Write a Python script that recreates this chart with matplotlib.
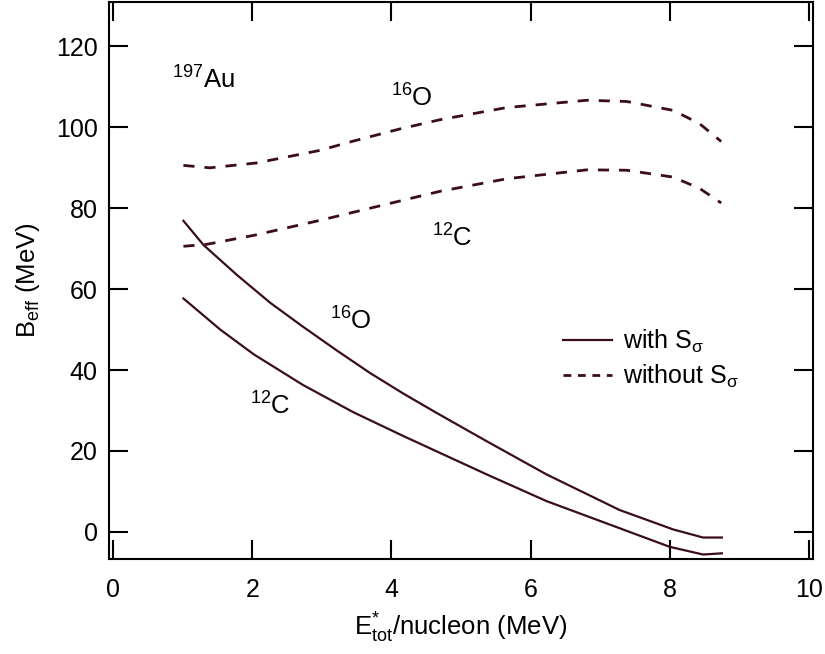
import matplotlib
matplotlib.use('Agg')
import matplotlib.pyplot as plt

plt.rcParams['font.family'] = ['Liberation Sans', 'DejaVu Sans']
plt.rcParams['mathtext.fontset'] = 'custom'
plt.rcParams['mathtext.rm'] = 'Liberation Sans'
plt.rcParams['mathtext.it'] = 'Liberation Sans:italic'
plt.rcParams['mathtext.bf'] = 'Liberation Sans:bold'

# E*_tot / nucleon (MeV) and B_eff (MeV), with S_sigma
o16_with_x = [1.01, 1.30, 1.78, 2.26, 2.73, 3.21, 3.69, 4.17, 4.65, 5.37, 6.23, 7.28, 8.05, 8.48, 8.75]
o16_with_y = [76.9, 70.9, 63.5, 56.6, 50.7, 44.9, 39.3, 34.2, 29.4, 22.4, 14.2, 5.4, 0.6, -1.4, -1.4]

c12_with_x = [1.01, 1.54, 2.02, 2.73, 3.45, 4.17, 5.37, 6.23, 7.28, 8.0, 8.48, 8.75]
c12_with_y = [57.7, 50.0, 43.9, 36.3, 29.6, 23.7, 14.2, 7.6, 0.9, -3.7, -5.6, -5.3]

# without S_sigma
o16_without_x = [1.01, 1.39, 2.06, 2.97, 3.45, 4.12, 4.70, 5.66, 6.81, 7.38, 8.05, 8.43, 8.74]
o16_without_y = [90.6, 90.0, 91.2, 94.3, 96.6, 99.6, 101.9, 104.9, 106.7, 106.4, 104.2, 100.9, 96.5]

c12_without_x = [1.01, 1.35, 2.02, 2.97, 3.93, 4.70, 5.66, 6.81, 7.38, 8.05, 8.43, 8.74]
c12_without_y = [70.6, 71.1, 73.3, 77.0, 81.0, 84.2, 87.3, 89.5, 89.4, 87.7, 84.9, 81.3]

line_color = '#3b0d1b'
dash = (4.0, 3.6)

fig = plt.figure(figsize=(8.25, 6.54), dpi=100)
ax = fig.add_axes([0.1321, 0.1453, 0.8534, 0.8517])

ax.plot(o16_with_x, o16_with_y, color=line_color, lw=1.6, label=r'with S$_{\mathrm{\sigma}}$')
ax.plot(c12_with_x, c12_with_y, color=line_color, lw=1.6)
ax.plot(o16_without_x, o16_without_y, color=line_color, lw=2.0, dashes=dash,
        label=r'without S$_{\mathrm{\sigma}}$')
ax.plot(c12_without_x, c12_without_y, color=line_color, lw=2.0, dashes=dash)

ax.set_xlim(-0.06, 10.06)
ax.set_ylim(-6.7, 131)
ax.set_xticks([0, 2, 4, 6, 8, 10])
ax.set_yticks([0, 20, 40, 60, 80, 100, 120])

for s in ax.spines.values():
    s.set_linewidth(1.5)
ax.tick_params(axis='both', direction='in', length=13.5, width=1.5, labelsize=18,
               top=True, right=True)
ax.tick_params(axis='x', pad=14)
ax.tick_params(axis='y', pad=8)

ax.set_xlabel(r'E$^{*}_{\mathrm{tot}}$/nucleon (MeV)', fontsize=18.5, labelpad=6)
ax.set_ylabel(r'B$_{\mathrm{eff}}$ (MeV)', fontsize=18.5, labelpad=10)

# curve labels
ax.text(0.85, 109.6, r'$^{197}$Au', fontsize=18.5, va='baseline')
ax.text(4.0, 105.2, r'$^{16}$O', fontsize=18.5, va='baseline')
ax.text(4.58, 70.4, r'$^{12}$C', fontsize=18.5, va='baseline')
ax.text(3.12, 49.9, r'$^{16}$O', fontsize=18.5, va='baseline')
ax.text(1.97, 28.9, r'$^{12}$C', fontsize=18.5, va='baseline')

leg = ax.legend(loc='upper left', bbox_to_anchor=(0.645, 0.415), frameon=False, fontsize=18,
                borderpad=0, borderaxespad=0, handlelength=1.95, handletextpad=0.45,
                labelspacing=0.3)
leg.get_lines()[1].set_dashes((2.8, 2.4))

fig.savefig('out.png', dpi=100)
